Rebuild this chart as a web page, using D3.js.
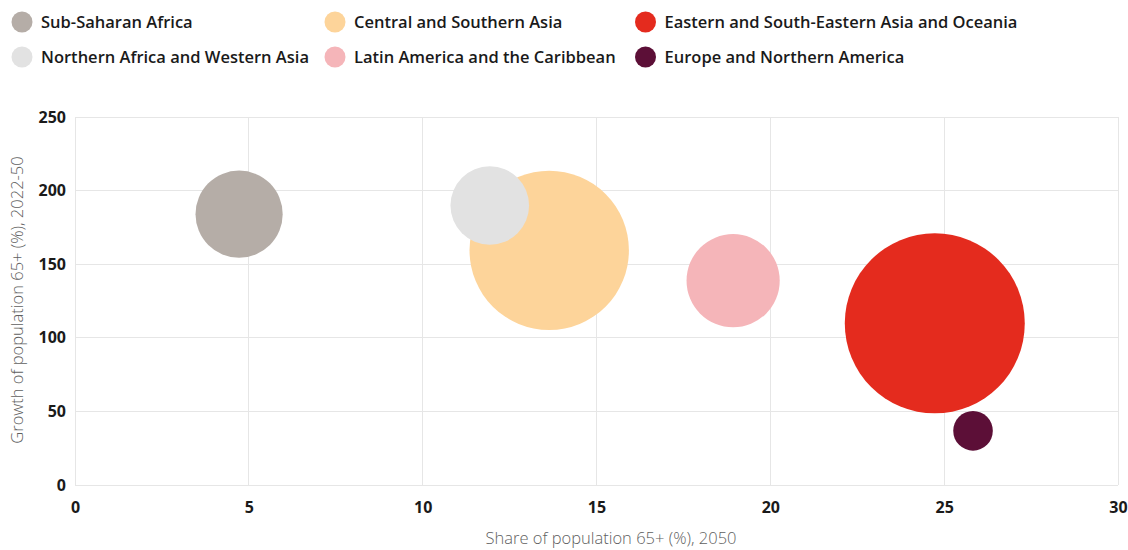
<!DOCTYPE html>
<html>
<head>
<meta charset="utf-8">
<script src="https://cdn.jsdelivr.net/npm/d3@7"></script>
<style>
  html, body { margin: 0; padding: 0; background: #fff; }
  svg { display: block; font-family: "Open Sans", "Noto Sans", sans-serif; }
</style>
</head>
<body>
<svg id="chart" width="1128" height="550"></svg>
<script>
const regions = [
  "Sub-Saharan Africa",
  "Central and Southern Asia",
  "Eastern and South-Eastern Asia and Oceania",
  "Northern Africa and Western Asia",
  "Latin America and the Caribbean",
  "Europe and Northern America"
];
const share2050 = [4.72, 13.64, 24.73, 11.93, 18.93, 25.83];
const growth = [184.0, 159.4, 109.8, 189.9, 138.8, 36.8];
const bubbleSize = [1900, 6350, 8100, 1545, 2170, 392];
const colors = ["#b5ada7", "#fdd49a", "#e42b1e", "#e2e2e2", "#f5b5b9", "#5c0f37"];
const xTicks = [0, 5, 10, 15, 20, 25, 30];
const yTicks = [0, 50, 100, 150, 200, 250];
const xTitle = "Share of population 65+ (%), 2050";
const yTitle = "Growth of population 65+ (%), 2022-50";

const FONT = "'Open Sans', 'Noto Sans', sans-serif";
const svg = d3.select("#chart");
const x = d3.scaleLinear().domain([0, 30]).range([75, 1118]);
const y = d3.scaleLinear().domain([0, 250]).range([485, 117]);
const r = d3.scaleSqrt().domain([0, d3.max(bubbleSize)]).range([0, 90]);

// grid
const grid = svg.append("g");
grid.selectAll("line.v").data(xTicks).join("line")
  .attr("x1", d => x(d)).attr("x2", d => x(d))
  .attr("y1", y(250)).attr("y2", y(0))
  .attr("stroke", "#e6e6e6").attr("stroke-width", 1).attr("shape-rendering", "crispEdges");
grid.selectAll("line.h").data(yTicks).join("line")
  .attr("x1", x(0)).attr("x2", x(30))
  .attr("y1", d => y(d)).attr("y2", d => y(d))
  .attr("stroke", "#e6e6e6").attr("stroke-width", 1).attr("shape-rendering", "crispEdges");

// axes
const xAxis = svg.append("g").attr("transform", `translate(0,${y(0)})`)
  .call(d3.axisBottom(x).tickValues(xTicks).tickSize(0).tickPadding(17));
const yAxis = svg.append("g").attr("transform", `translate(${x(0)},0)`)
  .call(d3.axisLeft(y).tickValues(yTicks).tickSize(0).tickPadding(9));
[xAxis, yAxis].forEach(a => {
  a.select(".domain").remove();
  a.selectAll("text").attr("font-family", FONT)
    .attr("font-size", 16).attr("font-weight", 700).attr("fill", "#1a1a1a");
});

// bubbles
const data = regions.map((name, i) => ({name, x: share2050[i], y: growth[i], s: bubbleSize[i], c: colors[i]}))
  .sort((a, b) => b.s - a.s);
svg.append("g").selectAll("circle").data(data).join("circle")
  .attr("cx", d => x(d.x)).attr("cy", d => y(d.y)).attr("r", d => r(d.s))
  .attr("fill", d => d.c);

// axis titles
svg.append("text").attr("x", 611).attr("y", 544).attr("text-anchor", "middle")
  .attr("font-size", 16.5).attr("font-weight", 300).attr("fill", "#5f5f5f").text(xTitle);
svg.append("text").attr("transform", `translate(23,${(y(0) + y(250)) / 2 - 1}) rotate(-90)`)
  .attr("text-anchor", "middle")
  .attr("font-size", 16.5).attr("font-weight", 300).attr("fill", "#5f5f5f").text(yTitle);

// legend
const legendPos = [[22, 22], [335, 22], [645.5, 22], [22, 57], [335, 57], [645.5, 57]];
const lg = svg.append("g").selectAll("g").data(regions).join("g")
  .attr("transform", (d, i) => `translate(${legendPos[i][0]},${legendPos[i][1]})`);
lg.append("circle").attr("r", 10.5).attr("fill", (d, i) => colors[i]);
lg.append("text").attr("x", 19).attr("dy", "0.36em")
  .attr("font-size", 16.5).attr("font-weight", 600).attr("fill", "#1a1a1a").text(d => d);
</script>
</body>
</html>
